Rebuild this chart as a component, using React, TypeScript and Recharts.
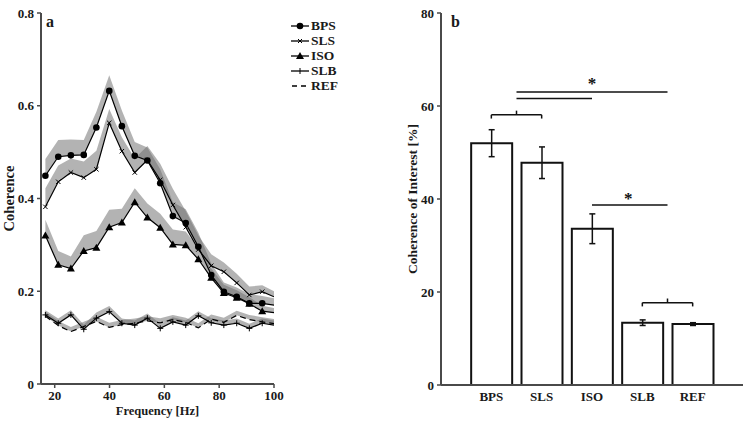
import React from "react";
import {
  ComposedChart, Line, Area, Bar, ErrorBar,
  XAxis, YAxis, Legend, ReferenceLine, ReferenceDot,
} from "recharts";

// panel a: coherence spectra
const freqs = [16.6, 21.3, 25.9, 30.6, 35.2, 39.9, 44.5, 49.2, 53.8, 58.5, 63.1, 67.8, 72.4, 77.1, 81.7, 86.4, 91.0, 95.7, 100];
const bps = [0.449, 0.490, 0.493, 0.494, 0.553, 0.632, 0.556, 0.492, 0.482, 0.433, 0.362, 0.347, 0.296, 0.235, 0.199, 0.188, 0.174, 0.174, 0.170];
const bpsErr = [0.036, 0.036, 0.034, 0.032, 0.034, 0.034, 0.034, 0.030, 0.028, 0.030, 0.030, 0.030, 0.030, 0.025, 0.020, 0.020, 0.020, 0.016, 0.015];
const sls = [0.382, 0.436, 0.456, 0.445, 0.463, 0.563, 0.502, 0.456, 0.483, 0.440, 0.386, 0.338, 0.290, 0.255, 0.242, 0.218, 0.192, 0.199, 0.188];
const slsErr = [0.040, 0.035, 0.030, 0.035, 0.040, 0.030, 0.030, 0.030, 0.030, 0.035, 0.035, 0.035, 0.030, 0.025, 0.020, 0.020, 0.018, 0.014, 0.012];
const iso = [0.320, 0.257, 0.249, 0.287, 0.294, 0.338, 0.348, 0.392, 0.359, 0.337, 0.301, 0.299, 0.269, 0.229, 0.196, 0.186, 0.173, 0.157, 0.154];
const isoErr = [0.034, 0.030, 0.026, 0.034, 0.036, 0.038, 0.030, 0.030, 0.030, 0.030, 0.032, 0.030, 0.025, 0.020, 0.018, 0.016, 0.014, 0.012, 0.010];
const slb = [0.149, 0.131, 0.149, 0.118, 0.142, 0.156, 0.131, 0.127, 0.142, 0.120, 0.134, 0.127, 0.147, 0.132, 0.127, 0.131, 0.120, 0.131, 0.127];
const slbErr = [0.010, 0.010, 0.010, 0.010, 0.012, 0.012, 0.010, 0.010, 0.010, 0.010, 0.010, 0.010, 0.010, 0.010, 0.010, 0.010, 0.010, 0.010, 0.010];
const ref = [0.146, 0.126, 0.113, 0.124, 0.135, 0.122, 0.128, 0.131, 0.136, 0.132, 0.139, 0.133, 0.121, 0.140, 0.133, 0.148, 0.139, 0.134, 0.130];
const refErr = [0.010, 0.010, 0.010, 0.010, 0.010, 0.010, 0.010, 0.010, 0.010, 0.010, 0.010, 0.010, 0.010, 0.010, 0.010, 0.010, 0.010, 0.010, 0.010];

// panel b: coherence of interest
const groups = ["BPS", "SLS", "ISO", "SLB", "REF"];
const means = [52.0, 47.8, 33.6, 13.4, 13.1];
const sems = [2.9, 3.4, 3.2, 0.6, 0.3];

// significance marks: [x1, x2, y] in data units
const brackets = [[0, 1, 58.1], [3, 4, 17.7]];
const sigLines = [[0.5, 2, 61.6], [0.5, 3.5, 63.0], [2, 3.5, 38.7]];
const stars = [[2, 65.0], [2.72, 40.3]];

const lineData = freqs.map((hz, i) => ({
  hz,
  bps: bps[i], sls: sls[i], iso: iso[i], slb: slb[i], ref: ref[i],
  bpsBand: [bps[i], bps[i] + bpsErr[i]],
  slsBand: [sls[i], sls[i] + slsErr[i]],
  isoBand: [iso[i], iso[i] + isoErr[i]],
  slbBand: [slb[i], slb[i] + slbErr[i]],
  refBand: [ref[i], ref[i] + refErr[i]],
}));

const barData = groups.map((g, i) => ({ idx: i, name: g, mean: means[i], sem: sems[i] }));

const FONT = '"Liberation Serif", "Times New Roman", serif';
const AXIS = "#4a4a4a";
const tickStyle = { fontSize: 13, fontWeight: 700, fill: "#1a1a1a", fontFamily: FONT };
const titleStyle = { fontSize: 12.5, fontWeight: 700, fill: "#1a1a1a", fontFamily: FONT, textAnchor: "middle" as const };

const last = freqs.length - 1;

function marker(kind: string) {
  return (p: any) => {
    const { cx, cy, index } = p;
    const key = `${kind}-${index}`;
    if (index === last || cx == null) return <g key={key} />;
    if (kind === "circle") return <circle key={key} cx={cx} cy={cy} r={3.3} fill="#000" />;
    if (kind === "tri")
      return <polygon key={key} points={`${cx},${cy - 4} ${cx - 4},${cy + 3} ${cx + 4},${cy + 3}`} fill="#000" />;
    if (kind === "x")
      return (
        <path key={key} d={`M${cx - 2.2},${cy - 2.2}L${cx + 2.2},${cy + 2.2}M${cx - 2.2},${cy + 2.2}L${cx + 2.2},${cy - 2.2}`} stroke="#000" strokeWidth={1} />
      );
    return (
      <path key={key} d={`M${cx - 3},${cy}L${cx + 3},${cy}M${cx},${cy - 3}L${cx},${cy + 3}`} stroke="#000" strokeWidth={1} />
    );
  };
}

const legendItems = [
  { name: "BPS", kind: "circle" },
  { name: "SLS", kind: "x" },
  { name: "ISO", kind: "tri" },
  { name: "SLB", kind: "plus" },
  { name: "REF", kind: "dash" },
];

function LegendBox() {
  return (
    <div style={{ fontFamily: FONT, fontWeight: 700, fontSize: 13.5, color: "#1a1a1a" }}>
      {legendItems.map((it) => (
        <div key={it.name} style={{ display: "flex", alignItems: "center", height: 15 }}>
          <svg width={20} height={10} style={{ marginRight: 1 }}>
            {it.kind === "dash" ? (
              <line x1={2} y1={5} x2={19} y2={5} stroke="#000" strokeWidth={1.3} strokeDasharray="5 4" />
            ) : (
              <line x1={1} y1={5} x2={19} y2={5} stroke="#000" strokeWidth={1.3} />
            )}
            {it.kind === "circle" && <circle cx={10} cy={5} r={3.3} fill="#000" />}
            {it.kind === "tri" && <polygon points="10,1 6,8 14,8" fill="#000" />}
            {it.kind === "x" && <path d="M8,3L12,7M8,7L12,3" stroke="#000" strokeWidth={1} />}
            {it.kind === "plus" && <path d="M10,2L10,8" stroke="#000" strokeWidth={1} />}
          </svg>
          <span>{it.name}</span>
        </div>
      ))}
    </div>
  );
}

const bandFill = "#6e6e6e";
const bandOpacity = 0.52;

export default function App() {
  return (
    <div style={{ position: "absolute", left: 0, top: 0, width: 750, height: 423, background: "#fff" }}>
      {/* panel a */}
      <div style={{ position: "absolute", left: 0, top: 0 }}>
        <ComposedChart width={370} height={423} data={lineData} margin={{ top: 13, right: 26, bottom: 0, left: 0 }}>
          <XAxis
            dataKey="hz" type="number" domain={[15, 100]} ticks={[20, 40, 60, 80, 100]} allowDataOverflow
            height={39} tickSize={4} tickMargin={3}
            axisLine={{ stroke: AXIS, strokeWidth: 2 }} tickLine={{ stroke: AXIS, strokeWidth: 1.5 }}
            tick={tickStyle}
            label={{ value: "Frequency [Hz]", position: "insideBottom", offset: 8, style: titleStyle }}
          />
          <YAxis
            type="number" domain={[0, 0.8]} ticks={[0, 0.2, 0.4, 0.6, 0.8]} allowDataOverflow
            width={41} tickSize={4} tickMargin={3}
            tickFormatter={(v: number) => (v === 0 ? "0" : v.toFixed(1))}
            axisLine={{ stroke: AXIS, strokeWidth: 2 }} tickLine={{ stroke: AXIS, strokeWidth: 1.5 }}
            tick={tickStyle}
            label={{ value: "Coherence", angle: -90, position: "insideLeft", offset: 9, style: { ...titleStyle, fontSize: 14.5 } }}
          />
          <Legend
            layout="vertical" verticalAlign="top" align="right"
            wrapperStyle={{ top: 18, left: 290, width: 70 }}
            content={() => <LegendBox />}
          />
          <Area dataKey="bpsBand" type="linear" stroke="none" fill={bandFill} fillOpacity={bandOpacity} isAnimationActive={false} legendType="none" />
          <Area dataKey="slsBand" type="linear" stroke="none" fill={bandFill} fillOpacity={bandOpacity} isAnimationActive={false} legendType="none" />
          <Area dataKey="isoBand" type="linear" stroke="none" fill={bandFill} fillOpacity={bandOpacity} isAnimationActive={false} legendType="none" />
          <Area dataKey="slbBand" type="linear" stroke="none" fill={bandFill} fillOpacity={bandOpacity} isAnimationActive={false} legendType="none" />
          <Area dataKey="refBand" type="linear" stroke="none" fill={bandFill} fillOpacity={bandOpacity} isAnimationActive={false} legendType="none" />
          <Line dataKey="ref" type="linear" stroke="#000" strokeWidth={1.2} strokeDasharray="6 4" dot={false} isAnimationActive={false} />
          <Line dataKey="slb" type="linear" stroke="#000" strokeWidth={1.2} dot={marker("plus")} isAnimationActive={false} />
          <Line dataKey="iso" type="linear" stroke="#000" strokeWidth={1.2} dot={marker("tri")} isAnimationActive={false} />
          <Line dataKey="sls" type="linear" stroke="#000" strokeWidth={1.2} dot={marker("x")} isAnimationActive={false} />
          <Line dataKey="bps" type="linear" stroke="#000" strokeWidth={1.2} dot={marker("circle")} isAnimationActive={false} />
        </ComposedChart>
        <div style={{ position: "absolute", left: 46, top: 13, fontFamily: FONT, fontWeight: 700, fontSize: 16, color: "#1a1a1a" }}>a</div>
      </div>

      {/* panel b */}
      <div style={{ position: "absolute", left: 380, top: 0 }}>
        <ComposedChart width={370} height={423} data={barData} margin={{ top: 13, right: 7, bottom: 0, left: 0 }}>
          <XAxis
            dataKey="idx" type="number" domain={[-1, 5]} ticks={[0, 1, 2, 3, 4]} allowDataOverflow
            tickFormatter={(i: number) => groups[i] ?? ""}
            height={38} tickSize={4} tickMargin={3} tickLine={false}
            axisLine={{ stroke: AXIS, strokeWidth: 2 }}
            tick={tickStyle}
          />
          <YAxis
            type="number" domain={[0, 80]} ticks={[0, 20, 40, 60, 80]} allowDataOverflow
            width={61} tickSize={4} tickMargin={3}
            axisLine={{ stroke: AXIS, strokeWidth: 2 }} tickLine={{ stroke: AXIS, strokeWidth: 1.5 }}
            tick={tickStyle}
            label={{ value: "Coherence of Interest [%]", angle: -90, position: "insideLeft", offset: 32, style: { ...titleStyle, fontSize: 13.5 } }}
          />
          <Bar dataKey="mean" barSize={41} fill="#fff" stroke="#111" strokeWidth={2} isAnimationActive={false}>
            <ErrorBar dataKey="sem" width={3} stroke="#111" strokeWidth={1.5} direction="y" />
          </Bar>
          {brackets.map(([x1, x2, y], i) => (
            <React.Fragment key={`br-${i}`}>
              <ReferenceLine segment={[{ x: x1, y }, { x: x2, y }]} stroke="#111" strokeWidth={1.5} />
              <ReferenceLine segment={[{ x: x1, y }, { x: x1, y: y - 0.8 }]} stroke="#111" strokeWidth={1.5} />
              <ReferenceLine segment={[{ x: x2, y }, { x: x2, y: y - 0.8 }]} stroke="#111" strokeWidth={1.5} />
              <ReferenceLine segment={[{ x: (x1 + x2) / 2, y }, { x: (x1 + x2) / 2, y: y + 0.9 }]} stroke="#111" strokeWidth={1.5} />
            </React.Fragment>
          ))}
          {sigLines.map(([x1, x2, y], i) => (
            <ReferenceLine key={`sl-${i}`} segment={[{ x: x1, y }, { x: x2, y }]} stroke="#111" strokeWidth={1.5} />
          ))}
          {stars.map(([x, y], i) => (
            <ReferenceDot
              key={`st-${i}`} x={x} y={y} r={0} fill="none" stroke="none"
              label={{ value: "*", position: "center", style: { fontSize: 17, fontWeight: 700, fill: "#111", fontFamily: FONT } }}
            />
          ))}
        </ComposedChart>
        <div style={{ position: "absolute", left: 71, top: 13, fontFamily: FONT, fontWeight: 700, fontSize: 16, color: "#1a1a1a" }}>b</div>
      </div>
    </div>
  );
}
